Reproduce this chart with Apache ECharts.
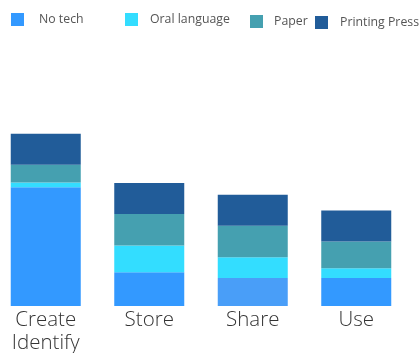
<!DOCTYPE html>
<html>
<head>
<meta charset="utf-8">
<script src="https://cdn.jsdelivr.net/npm/echarts@6/dist/echarts.min.js"></script>
<style>
  html, body { margin: 0; padding: 0; background: #ffffff; }
  #chart { width: 419px; height: 353px; }
</style>
</head>
<body>
<div id="chart"></div>
<script>
// Stages of information handling
const categories = ['Create\nIdentify', 'Store', 'Share', 'Use'];

// Stacked contributions per technology
const noTech        = [38.3, 10.9, 9.0, 9.0];
const oralLanguage  = [1.5, 8.6, 6.7, 3.2];
const paper         = [5.8, 10.2, 10.2, 8.6];
const printingPress = [10.0, 10.0, 10.0, 10.0];

const seriesNames = ['No tech', 'Oral language', 'Paper', 'Printing Press'];
const seriesColors = ['#3399ff', '#33ddff', '#45a0b0', '#215c99'];

const fontFamily = '"Open Sans", "Noto Sans", sans-serif';

// one legend box per entry so each can sit in its own spot
const legendSpots = [
  { left: 11,  top: 13, pad: 15 },
  { left: 125, top: 13, pad: 12 },
  { left: 250, top: 15, pad: 11 },
  { left: 315, top: 16, pad: 12 }
];
const legends = seriesNames.map((name, i) => ({
  data: [name],
  left: legendSpots[i].left,
  top: legendSpots[i].top,
  padding: 0,
  icon: 'rect',
  itemWidth: 13,
  itemHeight: 13,
  selectedMode: false,
  textStyle: {
    fontFamily: fontFamily,
    fontSize: 12.3,
    color: '#555555',
    padding: [0, 0, 0, legendSpots[i].pad - 5]
  }
}));

const valueLists = [noTech, oralLanguage, paper, printingPress];
const series = seriesNames.map((name, i) => ({
  name: name,
  type: 'bar',
  stack: 'tech',
  barWidth: 70,
  itemStyle: { color: seriesColors[i] },
  data: valueLists[i].map((v, j) => {
    // the Share bar's base segment is drawn in a softer blue
    if (i === 0 && j === 2) {
      return { value: v, itemStyle: { color: '#499ef8' } };
    }
    return v;
  })
}));

const chart = echarts.init(document.getElementById('chart'), null, { renderer: 'canvas' });
chart.setOption({
  animation: false,
  backgroundColor: '#ffffff',
  color: seriesColors,
  legend: legends,
  grid: {
    left: -6, right: 11, top: 120, bottom: 47,
    containLabel: false,
    outerBoundsMode: 'none'
  },
  xAxis: {
    type: 'category',
    data: categories,
    axisLine: { show: false },
    axisTick: { show: false },
    axisLabel: {
      margin: 3,
      fontFamily: fontFamily,
      fontSize: 20.5,
      fontWeight: 300,
      lineHeight: 23,
      color: '#333333',
      interval: 0
    }
  },
  yAxis: {
    type: 'value',
    min: 0,
    max: 60,
    show: false,
    splitLine: { show: false }
  },
  series: series
});
</script>
</body>
</html>
